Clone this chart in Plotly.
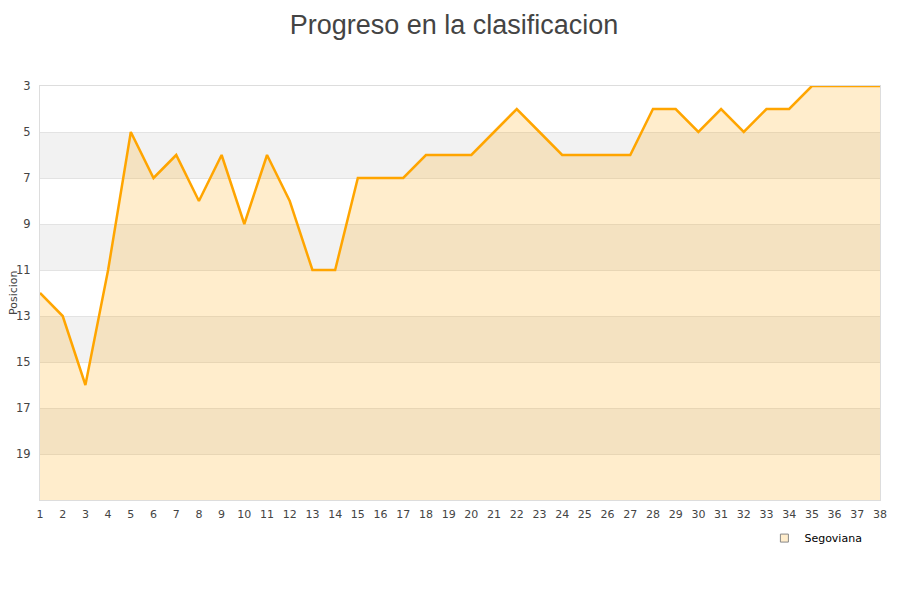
import plotly.graph_objects as go

jornadas = list(range(1, 39))
posiciones = [12, 13, 16, 11, 5, 7, 6, 8, 6, 9, 6, 8, 11, 11, 7, 7, 7, 6, 6, 6,
              5, 4, 5, 6, 6, 6, 6, 4, 4, 5, 4, 5, 4, 4, 3, 3, 3, 3]
y_ticks = [3, 5, 7, 9, 11, 13, 15, 17, 19]
bandas = [(5, 7), (9, 11), (13, 15), (17, 19)]
equipo = "Segoviana"

fig = go.Figure()
fig.add_trace(go.Scatter(
    x=jornadas, y=[21] * len(jornadas), mode="lines",
    line=dict(width=0), showlegend=False, hoverinfo="skip"))
fig.add_trace(go.Scatter(
    x=jornadas, y=posiciones, mode="lines",
    line=dict(color="#ffa500", width=2.5),
    fill="tonexty", fillcolor="rgba(255,165,0,0.2)",
    showlegend=False, name=equipo))
fig.add_trace(go.Scatter(
    x=[None], y=[None], mode="markers", name=equipo,
    marker=dict(symbol="square", size=8, color="#ffedcc",
                line=dict(color="#888", width=1))))

shapes = []
for y0, y1 in bandas:
    shapes.append(dict(type="rect", xref="paper", yref="y", x0=0, x1=1,
                       y0=y0, y1=y1, fillcolor="#f2f2f2", line=dict(width=0),
                       layer="below"))

W, H = 892, 592
L = 32
plot_w = W - L - 20
fig.update_layout(
    width=W, height=H,
    margin=dict(l=L, r=20, t=78, b=100, autoexpand=False),
    paper_bgcolor="white", plot_bgcolor="white",
    title=dict(text="Progreso en la clasificacion", x=0.5, xanchor="center",
               y=1 - 7 / H, yanchor="top", pad=dict(t=0),
               font=dict(family="Liberation Sans, Arial", size=27, color="#444")),
    font=dict(family="DejaVu Sans", size=11, color="#444"),
    shapes=shapes,
    annotations=[dict(text="Posicion", xref="paper", yref="paper",
                      x=(5 - L) / plot_w, y=0.5, xanchor="center",
                      yanchor="middle", textangle=-90, showarrow=False,
                      font=dict(size=11, color="#444"))],
    xaxis=dict(range=[1, 38], tickmode="array", tickvals=jornadas,
               showgrid=False, showline=True, linecolor="#ddd", mirror=True,
               zeroline=False, ticks="", automargin=False,
               ticklabelstandoff=4,
               tickfont=dict(size=11, color="#444")),
    yaxis=dict(range=[21, 3], tickmode="array", tickvals=y_ticks,
               showgrid=True, gridcolor="#e3e3e3", showline=True,
               linecolor="#ddd", mirror=True, zeroline=False, ticks="",
               automargin=False, ticklabelstandoff=6,
               tickfont=dict(size=11.5, color="#444")),
    legend=dict(x=0.985, xanchor="right", y=-0.092, yanchor="middle",
                font=dict(size=11, color="#000"), bgcolor="rgba(0,0,0,0)"),
    hovermode=False,
)

fig.write_html("out.html")
